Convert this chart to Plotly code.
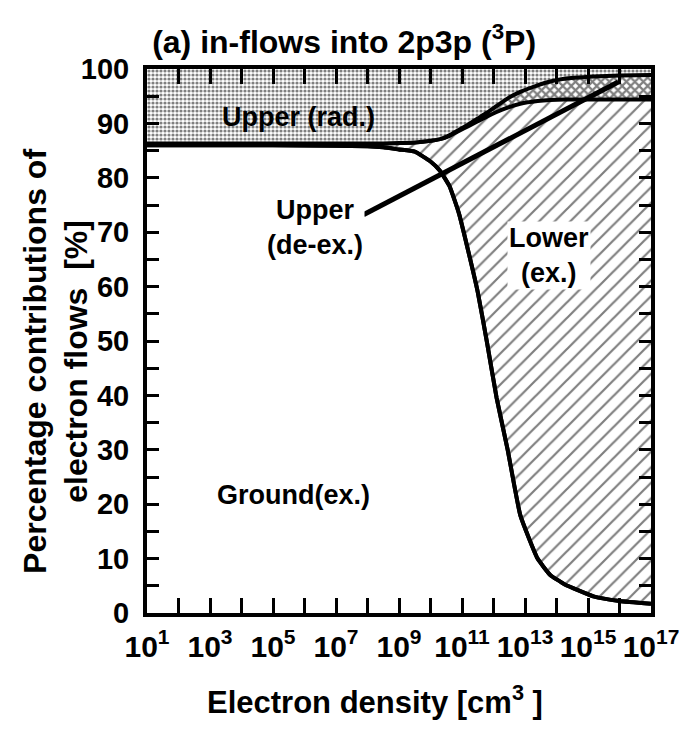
import numpy as np
import plotly.graph_objects as go

# log10 of electron density [cm^-3]
log_ne = [1, 3, 5, 7, 8, 8.5, 9, 9.5, 10, 10.3, 10.6, 10.9, 11.2, 11.5, 11.8,
          12.1, 12.45, 12.85, 13.4, 13.8, 14.25, 15.2, 16, 17]
# cumulative boundaries (%)
ground_top = [86.0, 86.0, 86.0, 85.9, 85.8, 85.6, 85.2, 84.8, 83.0, 81.3, 78.5,
              73.5, 66.5, 59.0, 49.5, 39.5, 30.0, 18.0, 10.0, 7.0, 5.3, 3.0, 2.2, 1.7]
lower_top = [86.3, 86.3, 86.3, 86.3, 86.3, 86.3, 86.4, 86.5, 86.8, 87.1, 87.7,
             88.6, 89.5, 90.4, 91.3, 92.1, 92.9, 93.6, 94.1, 94.3, 94.4, 94.4, 94.4, 94.4]
deex_top = [86.3, 86.3, 86.3, 86.3, 86.3, 86.3, 86.4, 86.5, 86.8, 87.1, 87.8,
            88.8, 89.8, 90.9, 92.0, 93.2, 94.6, 95.8, 97.0, 97.7, 98.2, 98.6, 98.8, 98.9]
total = [100] * len(log_ne)

# leader line for "Upper (de-ex.)"
leader_log_ne = [7.87, 15.96]
leader_pct = [73.2, 97.6]

x_tick_exp = list(range(1, 18))
y_ticks = list(range(0, 101, 5))

x = [10 ** v for v in log_ne]
spl = dict(shape="spline", smoothing=0.4)

fig = go.Figure()
fig.add_trace(go.Scatter(x=x, y=ground_top, mode="lines", fill="tozeroy",
                         fillcolor="white", line=dict(color="black", width=4, **spl),
                         showlegend=False, hoverinfo="skip"))
fig.add_trace(go.Scatter(x=x, y=lower_top, mode="lines", fill="tonexty",
                         fillpattern=dict(shape="/", size=11, solidity=0.2, fgcolor="black", bgcolor="white"),
                         line=dict(color="black", width=4, **spl),
                         showlegend=False, hoverinfo="skip"))
fig.add_trace(go.Scatter(x=x, y=deex_top, mode="lines", fill="tonexty",
                         fillpattern=dict(shape="x", size=6, solidity=0.6, fgcolor="black", bgcolor="white"),
                         line=dict(color="black", width=4, **spl),
                         showlegend=False, hoverinfo="skip"))
fig.add_trace(go.Scatter(x=x, y=total, mode="lines", fill="tonexty",
                         fillpattern=dict(shape=".", size=4, solidity=0.5, fgcolor="black", bgcolor="white"),
                         line=dict(color="black", width=0),
                         showlegend=False, hoverinfo="skip"))
# redraw ground line on top
fig.add_trace(go.Scatter(x=x, y=ground_top, mode="lines",
                         line=dict(color="black", width=4, **spl),
                         showlegend=False, hoverinfo="skip"))
fig.add_trace(go.Scatter(x=[10 ** v for v in leader_log_ne], y=leader_pct, mode="lines",
                         line=dict(color="black", width=5), showlegend=False, hoverinfo="skip"))

fam = "Liberation Sans, Arial, sans-serif"
font = dict(family=fam, size=27, color="black", weight="bold")

anns = [
    dict(x=5.82, y=91.2, text="Upper (rad.)", bgcolor=None),
    dict(x=6.32, y=70.8, text="Upper<br>(de-ex.)", bgcolor="white"),
    dict(x=13.76, y=65.8, text="Lower<br>(ex.)", bgcolor="white"),
    dict(x=5.66, y=21.7, text="Ground(ex.)", bgcolor=None),
]
for a in anns:
    d = dict(x=a["x"], y=a["y"], xref="x", yref="y", text=a["text"], showarrow=False,
             font=font)
    if a["bgcolor"]:
        d["bgcolor"] = a["bgcolor"]
    fig.add_annotation(**d)

# axis titles as annotations (placed like the reference)
fig.add_annotation(x=-0.181, y=0.463, xref="paper", yref="paper",
                   text="Percentage contributions of<br>electron flows  [%]",
                   textangle=-90, showarrow=False,
                   font=dict(family=fam, size=32, color="black", weight="bold"),
                   xanchor="center", yanchor="middle")
fig.add_annotation(x=0.453, y=-0.16, xref="paper", yref="paper",
                   text="Electron density [cm<sup>3</sup> ]",
                   showarrow=False, font=dict(family=fam, size=31, color="black", weight="bold"),
                   xanchor="center", yanchor="middle")

fig.update_layout(
    width=691, height=732,
    margin=dict(l=147, r=36, t=69, b=119),
    paper_bgcolor="white", plot_bgcolor="white",
    font=font,
    title=dict(text="(a) in-flows into 2p3p (<sup>3</sup>P)", x=0.498, xanchor="center",
               y=0.943, yanchor="middle", font=dict(size=32, weight="bold", family=fam)),
    showlegend=False,
)
fig.update_xaxes(type="log", range=[1, 17],
                 tickvals=[10 ** e for e in x_tick_exp],
                 ticktext=[("10<sup>%d</sup>" % e) if e % 2 == 1 else "" for e in x_tick_exp],
                 ticks="inside", ticklen=15, tickwidth=3, tickcolor="black",
                 showline=True, linewidth=4, linecolor="black", mirror="allticks",
                 showgrid=False, zeroline=False,
                 tickfont=dict(size=30), ticklabelstandoff=4)
fig.update_yaxes(range=[0, 100],
                 tickvals=y_ticks,
                 ticktext=[str(v) if v % 10 == 0 else "" for v in y_ticks],
                 ticks="inside", ticklen=12, tickwidth=3, tickcolor="black",
                 showline=True, linewidth=4, linecolor="black", mirror="allticks",
                 showgrid=False, zeroline=False,
                 tickfont=dict(size=29), ticklabelstandoff=8)

fig.write_html("out.html")
